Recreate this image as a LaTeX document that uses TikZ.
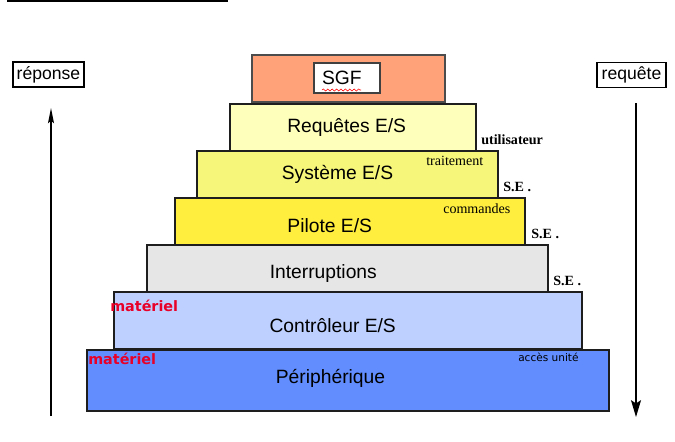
\documentclass[tikz,border=0pt]{standalone}
\usepackage{fontspec}
\setmainfont{Liberation Sans}
\newfontfamily\timesfam{Liberation Serif}
\newfontfamily\dejavufam{DejaVu Sans}
\usepackage{tikz}
\usetikzlibrary{arrows.meta,decorations.pathmorphing}
\definecolor{sgfsalmon}{RGB}{255,162,122}
\definecolor{reqyellow}{RGB}{255,255,188}
\definecolor{sysyellow}{RGB}{246,246,122}
\definecolor{pilyellow}{RGB}{255,238,62}
\definecolor{intgray}{RGB}{230,230,230}
\definecolor{ctlblue}{RGB}{190,208,255}
\definecolor{perblue}{RGB}{97,141,255}
\definecolor{matred}{RGB}{232,0,40}
\definecolor{edge}{RGB}{30,30,30}
\tikzset{
  layerbox/.style={rectangle, draw=edge, line width=0.9pt, inner sep=0pt,
                   minimum height=1.175cm},
  layertxt/.style={inner sep=0pt, font=\fontsize{13.7}{16}\selectfont},
  tagbox/.style={rectangle, draw=black, line width=0.9pt, fill=white,
                 inner sep=0pt, minimum height=0.62cm,
                 font=\fontsize{12.5}{15}\selectfont},
  selbl/.style={anchor=west, inner sep=0pt,
                font=\timesfam\bfseries\fontsize{10}{12}\selectfont},
  notelbl/.style={anchor=west, inner sep=0pt,
                  font=\timesfam\fontsize{10}{12}\selectfont},
  matlbl/.style={anchor=west, inner sep=0pt, text=matred,
                 font=\dejavufam\bfseries\fontsize{10.2}{12}\selectfont},
  flowarr/.style={line width=0.8pt, draw=black},
}
\begin{document}
\begin{tikzpicture}
  \useasboundingbox (0,0) rectangle (16.875,-11.05);
  \fill[black] (0.175,0) rectangle (5.7,-0.05);

  % side tags and arrows
  \node[tagbox, minimum width=1.775cm] (rep) at (1.2125,-1.8625) {réponse};
  \node[tagbox, minimum width=1.725cm] (req) at (15.7875,-1.875) {requête};
  \coordinate (repfoot) at (1.275,-10.4);
  \coordinate (rephead) at (1.275,-2.7);
  \coordinate (reqtop) at (15.9,-2.575);
  \coordinate (reqfoot) at (15.9,-10.425);
  \draw[flowarr, -{Stealth[length=3.8mm,width=1.5mm,inset=0.6mm]}] (repfoot) -- (rephead);
  \draw[flowarr, -{Stealth[length=4.2mm,width=2.5mm,inset=0.8mm]}] (reqtop) -- (reqfoot);

  % the stack
  \node[layerbox, fill=sgfsalmon, draw=black!70, minimum width=4.825cm] (sgf) at (8.7125,-1.9625) {};
  \node[rectangle, draw=black!75, line width=0.8pt, fill=white, inner xsep=0.2cm, inner ysep=0pt,
        text width=1.25cm, align=left, minimum height=0.75cm,
        font=\fontsize{13.7}{16}\selectfont] (sgfin) at (8.675,-1.95) {SGF};
  \draw[red, line width=0.4pt, decorate, decoration={snake, segment length=1.1mm, amplitude=0.25mm}]
        (8.05,-2.25) -- (9.025,-2.25);
  \node[layerbox, fill=reqyellow, minimum width=6.15cm] (reqes) at (8.825,-3.1875) {};
  \node[layerbox, fill=sysyellow, minimum width=7.525cm] (syses) at (8.6875,-4.3625) {};
  \node[layerbox, fill=pilyellow, minimum width=8.75cm] (pilote) at (8.75,-5.5375) {};
  \node[layerbox, fill=intgray, minimum width=10.025cm] (intr) at (8.6875,-6.7125) {};
  \node[layerbox, fill=ctlblue, minimum width=11.7cm, minimum height=1.425cm] (ctl) at (8.7,-8.0125) {};
  \node[layerbox, fill=perblue, minimum width=13.05cm, minimum height=1.525cm] (peri) at (8.7,-9.5125) {};
  \node[layertxt] (reqtxt) at (8.6675,-3.175) {Requêtes E/S};
  \node[layertxt] (systxt) at (8.4375,-4.35) {Système E/S};
  \node[layertxt] (piltxt) at (8.2425,-5.65) {Pilote E/S};
  \node[layertxt] (inttxt) at (8.0825,-6.8325) {Interruptions};
  \node[layertxt] (ctltxt) at (8.3175,-8.1425) {Contrôleur E/S};
  \node[layertxt] (pertxt) at (8.2625,-9.45) {Périphérique};

  % side notes
  \node[selbl] (util) at (12.025,-3.5) {utilisateur};
  \node[notelbl] (trait) at (10.65,-4.025) {traitement};
  \node[selbl] (se1) at (12.575,-4.675) {S.E .};
  \node[notelbl] (cmd) at (11.075,-5.225) {commandes};
  \node[selbl] (se2) at (13.275,-5.85) {S.E .};
  \node[selbl] (se3) at (13.825,-7.025) {S.E .};
  \node[matlbl] (mat1) at (2.75,-7.65) {matériel};
  \node[matlbl] (mat2) at (2.2,-8.975) {matériel};
  \node[anchor=west, inner sep=0pt, font=\dejavufam\fontsize{7.5}{9}\selectfont] (acces) at (12.95,-8.925) {accès unité};
\end{tikzpicture}
\end{document}
